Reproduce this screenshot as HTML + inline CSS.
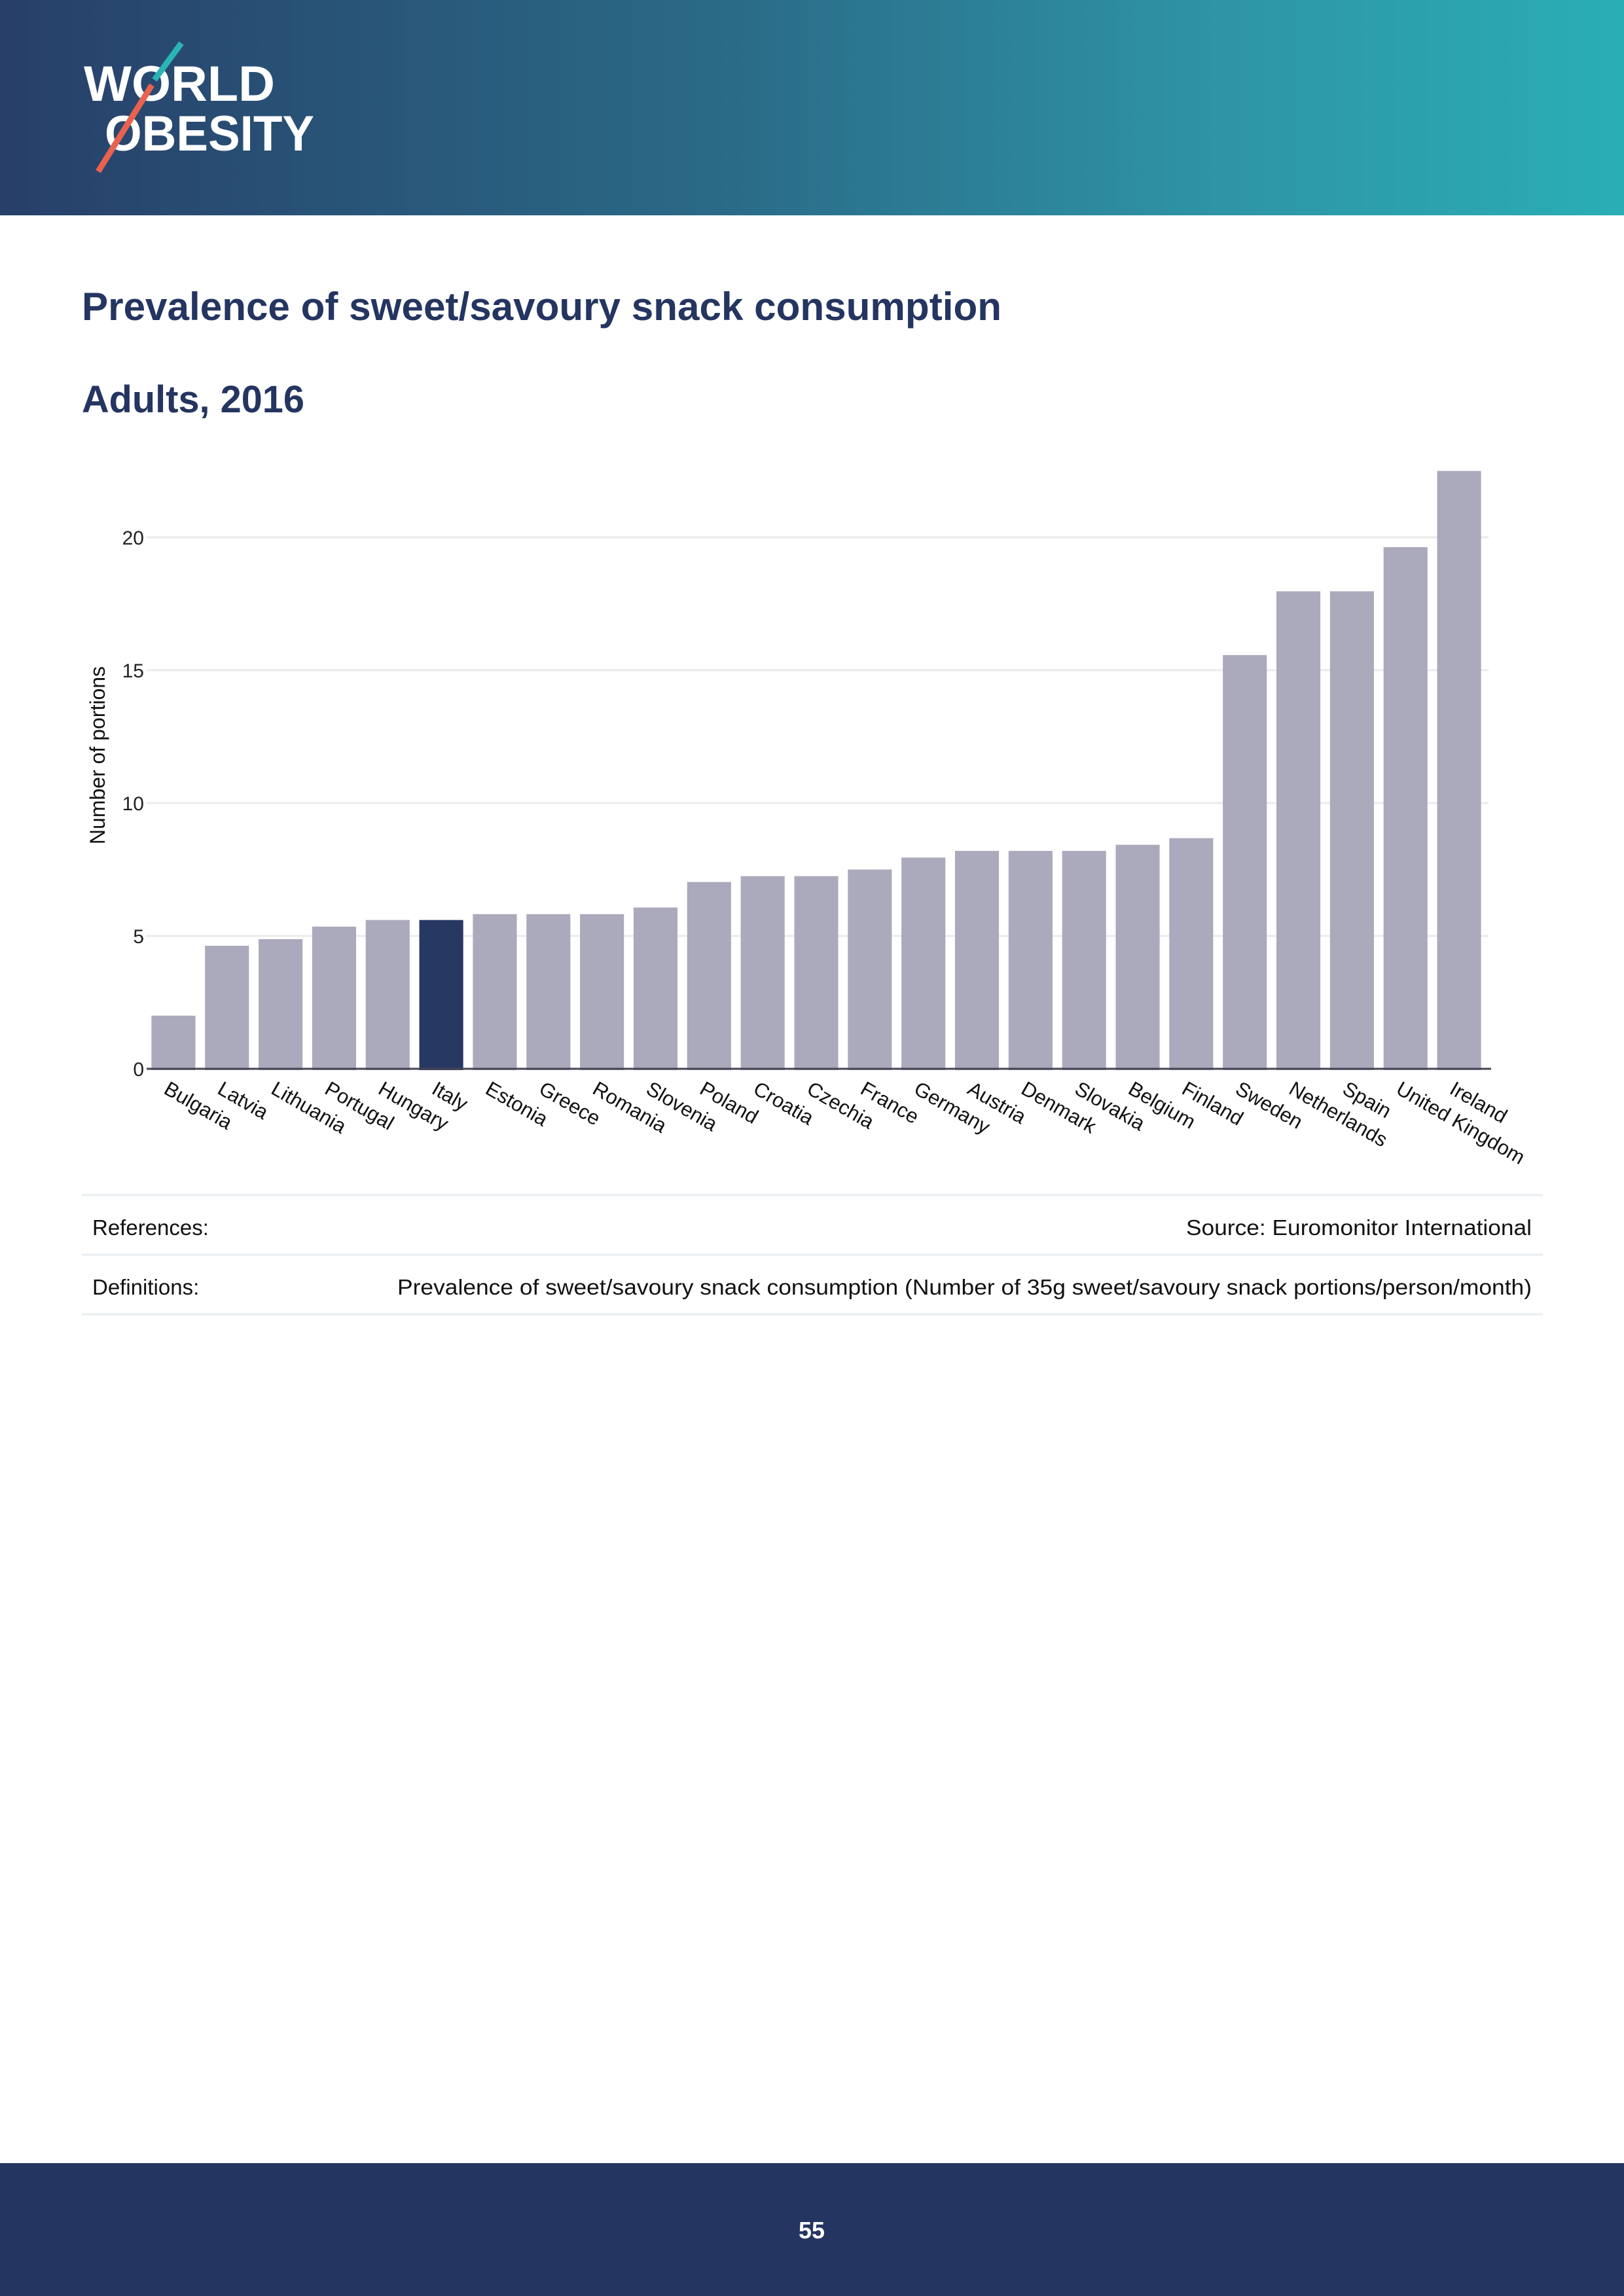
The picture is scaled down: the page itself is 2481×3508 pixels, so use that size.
<!DOCTYPE html>
<html><head><meta charset="utf-8">
<style>
html,body{margin:0;padding:0;background:#fff;}
body{width:2481px;height:3508px;position:relative;overflow:hidden;font-family:"Liberation Sans",sans-serif;}
svg{position:absolute;left:0;top:0;}
</style></head>
<body>
<svg id="page" width="2481" height="3508" viewBox="0 0 2481 3508" xmlns="http://www.w3.org/2000/svg">
<defs>
<linearGradient id="hg" x1="0" y1="0" x2="1" y2="0">
<stop offset="0" stop-color="#273f69"/>
<stop offset="0.45" stop-color="#2a6b88"/>
<stop offset="0.75" stop-color="#2e94a6"/>
<stop offset="1" stop-color="#2aaeb5"/>
</linearGradient>
</defs>
<rect x="0" y="0" width="2481" height="329" fill="url(#hg)"/>
<g>
<text x="128" y="154" font-size="76" font-weight="bold" fill="#fff" textLength="292" lengthAdjust="spacingAndGlyphs">WORLD</text>
<text x="160" y="230" font-size="76" font-weight="bold" fill="#fff" textLength="320" lengthAdjust="spacingAndGlyphs">OBESITY</text>
<line x1="277" y1="66" x2="236" y2="122" stroke="#2ab5b5" stroke-width="9"/>
<line x1="232" y1="130" x2="150" y2="262" stroke="#e8624f" stroke-width="9"/>
</g>
<text x="125" y="489" font-size="60" font-weight="bold" fill="#253561" textLength="1405" lengthAdjust="spacingAndGlyphs">Prevalence of sweet/savoury snack consumption</text>
<text x="125" y="630" font-size="58" font-weight="bold" fill="#253561" textLength="340" lengthAdjust="spacingAndGlyphs">Adults, 2016</text>
<g id="chart"></g>
<g>
<line x1="125" y1="1826" x2="2357" y2="1826" stroke="#edf1f3" stroke-width="4"/>
<line x1="125" y1="1917" x2="2357" y2="1917" stroke="#edf1f3" stroke-width="4"/>
<line x1="125" y1="2008" x2="2357" y2="2008" stroke="#edf1f3" stroke-width="4"/>
<text x="141" y="1887" font-size="33" fill="#111">References:</text>
<text x="2340" y="1887" font-size="33" fill="#111" text-anchor="end" textLength="528" lengthAdjust="spacingAndGlyphs">Source: Euromonitor International</text>
<text x="141" y="1978" font-size="33" fill="#111">Definitions:</text>
<text x="2340" y="1978" font-size="33" fill="#111" text-anchor="end" textLength="1733" lengthAdjust="spacingAndGlyphs">Prevalence of sweet/savoury snack consumption (Number of 35g sweet/savoury snack portions/person/month)</text>
</g>
<rect x="0" y="3305" width="2481" height="203" fill="#253561"/>
<text x="1240" y="3420" font-size="36" font-weight="bold" fill="#fff" text-anchor="middle">55</text>
</svg>
<script>
const categories = ["Bulgaria","Latvia","Lithuania","Portugal","Hungary","Italy","Estonia","Greece","Romania","Slovenia","Poland","Croatia","Czechia","France","Germany","Austria","Denmark","Slovakia","Belgium","Finland","Sweden","Netherlands","Spain","United Kingdom","Ireland"];
const values = [2.0,4.63,4.88,5.35,5.6,5.6,5.82,5.82,5.82,6.07,7.03,7.25,7.25,7.5,7.95,8.2,8.2,8.2,8.43,8.68,15.57,17.97,17.97,19.63,22.5];
const highlighted = ["Italy"];
const yTicks = [0,5,10,15,20];
const yTickLabels = ["0","5","10","15","20"];

const NS = "http://www.w3.org/2000/svg";
const chart = document.getElementById('chart');
const x0 = 224, x1 = 2270, yBase = 1633, pxPerUnit = 40.6;
const step = (x1 - x0) / categories.length;
const barW = step * 0.82;
function yScale(v){ return yBase - v * pxPerUnit; }
function xCenter(i){ return x0 + step * (i + 0.5); }
function mk(tag, attrs){ const e = document.createElementNS(NS, tag); for (const k in attrs) e.setAttribute(k, attrs[k]); return e; }

yTicks.forEach((t, i) => {
  if (t !== 0) {
    const g = mk('line', {x1: x0, x2: x1 + 4, y1: yScale(t), y2: yScale(t), stroke: '#ebebeb', 'stroke-width': 3});
    
    
    chart.appendChild(g);
  }
  const lb = mk('text', {x: 220, y: yScale(t) + 11, 'font-size': 30, fill: '#222', 'text-anchor': 'end'});
  lb.textContent = yTickLabels[i];
  
  
  chart.appendChild(lb);
});

categories.forEach((c, i) => {
  const v = values[i];
  const r = mk('rect', {x: xCenter(i) - barW / 2, y: yScale(v), width: barW, height: yBase - yScale(v) + 2, fill: highlighted.includes(c) ? '#273862' : '#aba9bc'});
  
  
  chart.appendChild(r);
  const t = mk('text', {transform: 'translate(' + (xCenter(i) - 4) + ',' + 1648 + ') rotate(30)', x: 0, y: 25, 'font-size': 31, fill: '#111'});
  t.textContent = c;
  
  
  chart.appendChild(t);
});

const ax = mk('line', {x1: x0, x2: x1 + 8, y1: yBase, y2: yBase, stroke: '#444455', 'stroke-width': 3});


chart.appendChild(ax);

const yt = mk('text', {transform: 'translate(160,1154) rotate(-90)', x: 0, y: 0, 'font-size': 32, fill: '#111', 'text-anchor': 'middle'});
yt.textContent = 'Number of portions';


chart.appendChild(yt);
</script>
</body></html>
